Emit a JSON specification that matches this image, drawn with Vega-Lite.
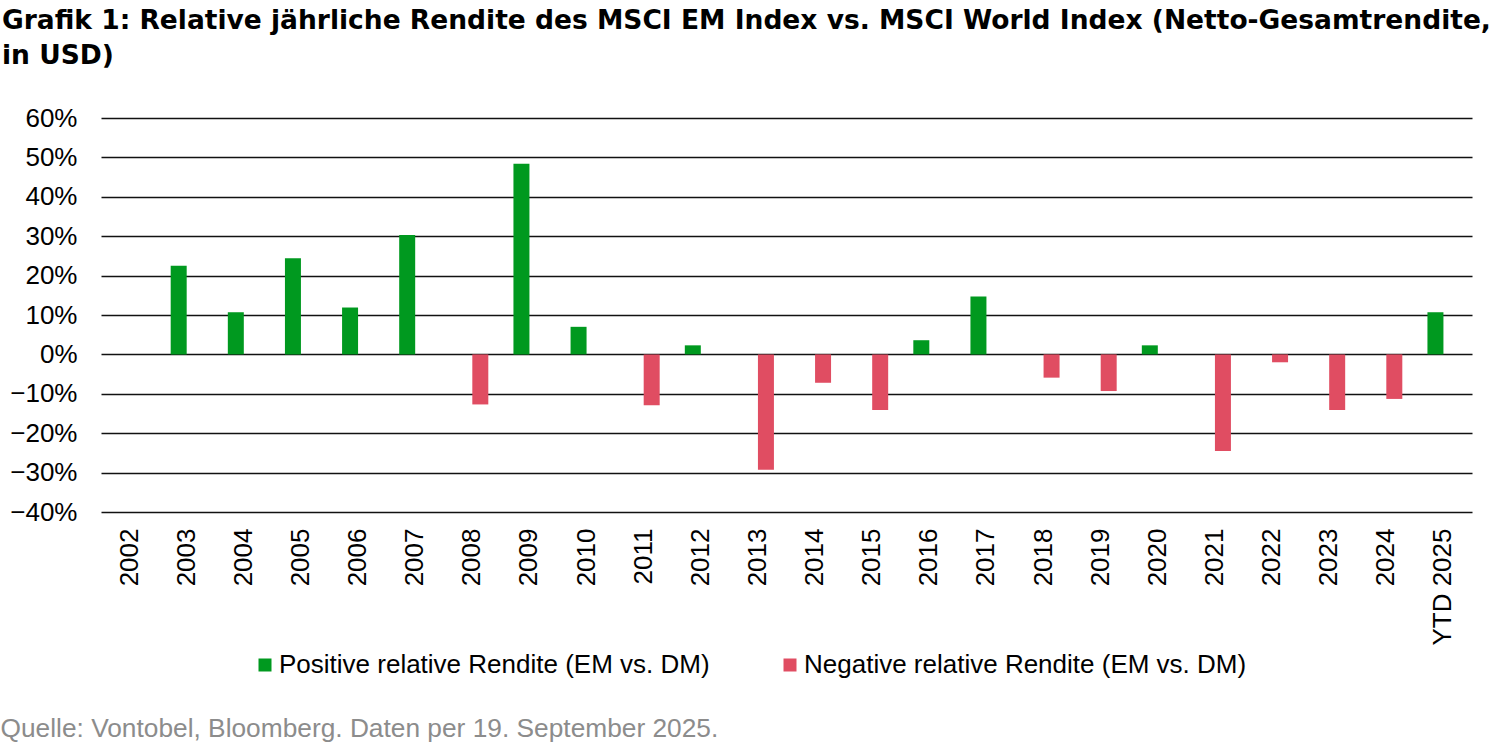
{
  "$schema": "https://vega.github.io/schema/vega-lite/v6.json",
  "description": "Relative jährliche Rendite MSCI EM vs. MSCI World",
  "autosize": {"type": "none"},
  "padding": {"left": 101, "top": 118, "right": 28, "bottom": 239},
  "width": 1371,
  "height": 394,
  "background": "white",
  "title": {
    "text": ["Grafik 1: Relative jährliche Rendite des MSCI EM Index vs. MSCI World Index (Netto-Gesamtrendite,", "in USD)"],
    "anchor": "start",
    "frame": "group",
    "dx": -99,
    "offset": 36,
    "font": "DejaVu Sans",
    "fontSize": 26.5,
    "fontWeight": "bold",
    "color": "black",
    "lineHeight": 35
  },
  "data": {
    "values": [
      {"jahr": "2003", "serie": "Positive relative Rendite (EM vs. DM)", "wert": 0.225},
      {"jahr": "2004", "serie": "Positive relative Rendite (EM vs. DM)", "wert": 0.107},
      {"jahr": "2005", "serie": "Positive relative Rendite (EM vs. DM)", "wert": 0.244},
      {"jahr": "2006", "serie": "Positive relative Rendite (EM vs. DM)", "wert": 0.119},
      {"jahr": "2007", "serie": "Positive relative Rendite (EM vs. DM)", "wert": 0.303},
      {"jahr": "2008", "serie": "Negative relative Rendite (EM vs. DM)", "wert": -0.127},
      {"jahr": "2009", "serie": "Positive relative Rendite (EM vs. DM)", "wert": 0.484},
      {"jahr": "2010", "serie": "Positive relative Rendite (EM vs. DM)", "wert": 0.070},
      {"jahr": "2011", "serie": "Negative relative Rendite (EM vs. DM)", "wert": -0.129},
      {"jahr": "2012", "serie": "Positive relative Rendite (EM vs. DM)", "wert": 0.023},
      {"jahr": "2013", "serie": "Negative relative Rendite (EM vs. DM)", "wert": -0.293},
      {"jahr": "2014", "serie": "Negative relative Rendite (EM vs. DM)", "wert": -0.072},
      {"jahr": "2015", "serie": "Negative relative Rendite (EM vs. DM)", "wert": -0.141},
      {"jahr": "2016", "serie": "Positive relative Rendite (EM vs. DM)", "wert": 0.036},
      {"jahr": "2017", "serie": "Positive relative Rendite (EM vs. DM)", "wert": 0.147},
      {"jahr": "2018", "serie": "Negative relative Rendite (EM vs. DM)", "wert": -0.059},
      {"jahr": "2019", "serie": "Negative relative Rendite (EM vs. DM)", "wert": -0.093},
      {"jahr": "2020", "serie": "Positive relative Rendite (EM vs. DM)", "wert": 0.023},
      {"jahr": "2021", "serie": "Negative relative Rendite (EM vs. DM)", "wert": -0.245},
      {"jahr": "2022", "serie": "Negative relative Rendite (EM vs. DM)", "wert": -0.020},
      {"jahr": "2023", "serie": "Negative relative Rendite (EM vs. DM)", "wert": -0.141},
      {"jahr": "2024", "serie": "Negative relative Rendite (EM vs. DM)", "wert": -0.113},
      {"jahr": "YTD 2025", "serie": "Positive relative Rendite (EM vs. DM)", "wert": 0.107}
    ]
  },
  "mark": {"type": "bar"},
  "encoding": {
    "x": {
      "field": "jahr",
      "type": "nominal",
      "sort": null,
      "scale": {
        "domain": ["2002", "2003", "2004", "2005", "2006", "2007", "2008", "2009", "2010", "2011", "2012", "2013", "2014", "2015", "2016", "2017", "2018", "2019", "2020", "2021", "2022", "2023", "2024", "YTD 2025"],
        "paddingInner": 0.44,
        "paddingOuter": 0.22
      },
      "axis": {
        "title": "Quelle: Vontobel, Bloomberg. Daten per 19. September 2025.",
        "titleX": -101,
        "titleY": 224,
        "titleAlign": "left",
        "titleAnchor": null,
        "titleBaseline": "alphabetic",
        "titleFont": "Liberation Sans",
        "titleFontSize": 26.3,
        "titleFontWeight": "normal",
        "titleColor": "#8c8c8c",
        "labelAngle": 270,
        "labelAlign": "right",
        "labelBaseline": "middle",
        "labelPadding": 16,
        "labelFont": "Liberation Sans",
        "labelFontSize": 26,
        "labelColor": "black",
        "domain": false,
        "ticks": false,
        "grid": false
      }
    },
    "xOffset": {
      "field": "serie",
      "type": "nominal",
      "scale": {
        "domain": ["Positive relative Rendite (EM vs. DM)", "Negative relative Rendite (EM vs. DM)"],
        "paddingInner": 0,
        "paddingOuter": 0
      }
    },
    "y": {
      "field": "wert",
      "type": "quantitative",
      "scale": {"domain": [-0.4, 0.6], "nice": false, "zero": true},
      "axis": {
        "title": null,
        "values": [-0.4, -0.3, -0.2, -0.1, 0, 0.1, 0.2, 0.3, 0.4, 0.5, 0.6],
        "format": ".0%",
        "labelFont": "Liberation Sans",
        "labelFontSize": 26,
        "labelColor": "black",
        "labelPadding": 24,
        "domain": false,
        "ticks": false,
        "grid": true,
        "gridColor": "#111111",
        "gridWidth": 1.6
      }
    },
    "color": {
      "field": "serie",
      "type": "nominal",
      "scale": {
        "domain": ["Positive relative Rendite (EM vs. DM)", "Negative relative Rendite (EM vs. DM)"],
        "range": ["#00991f", "#e04d62"]
      },
      "legend": {
        "title": null,
        "orient": "none",
        "direction": "horizontal",
        "legendX": 151,
        "legendY": 534,
        "padding": 0,
        "symbolType": "square",
        "symbolSize": 169,
        "symbolStrokeWidth": 0,
        "labelFont": "Liberation Sans",
        "labelFontSize": 26,
        "labelColor": "black",
        "labelOffset": 1,
        "labelLimit": 600,
        "columnPadding": 67
      }
    }
  },
  "config": {
    "view": {"stroke": null},
    "font": "Liberation Sans"
  }
}
